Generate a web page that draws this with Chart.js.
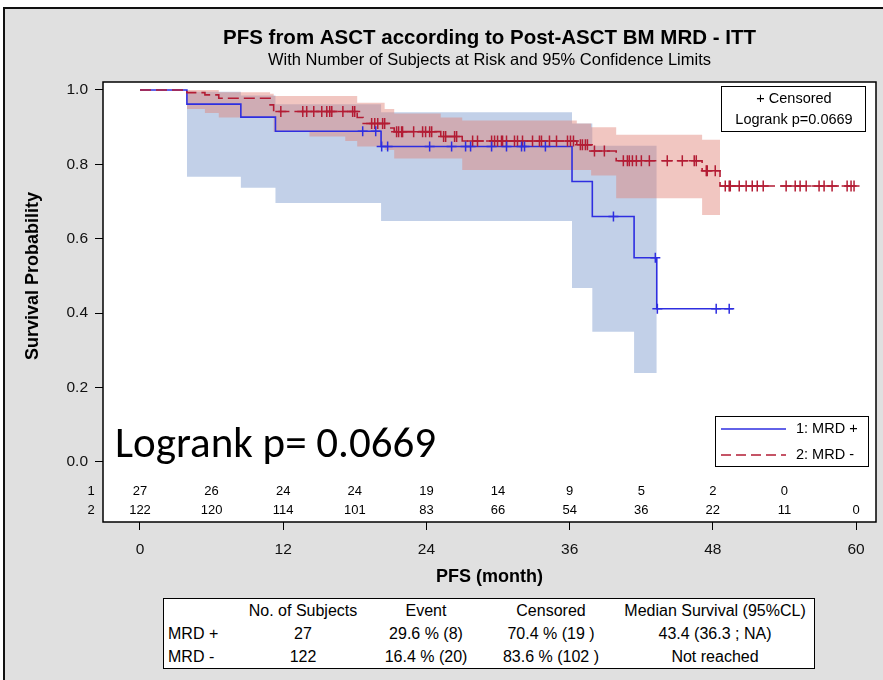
<!DOCTYPE html>
<html lang="en">
<head>
<meta charset="utf-8">
<title>PFS from ASCT according to Post-ASCT BM MRD - ITT</title>
<script src="https://cdn.jsdelivr.net/npm/chart.js@4.4.1/dist/chart.umd.min.js"></script>
<style>
    html, body { margin: 0; padding: 0; background: #fff; }
    #panel {
        position: absolute; left: 3px; top: 7px; width: 880px; height: 673px;
        box-sizing: border-box; background: #e0e0e0;
        border-left: 2px solid #111; border-top: 2px solid #111;
    }
    #km { position: absolute; left: 0; top: 0; }
    #summary {
        position: absolute; left: 163px; top: 598px; width: 652px; height: 71px;
        box-sizing: border-box; background: #fff; border: 1px solid #000;
        font: 16px 'Liberation Sans', Arial, sans-serif; color: #000;
    }
    #summary div { position: absolute; white-space: nowrap; line-height: 20px; transform: translate(-50%, -50%); }
    #summary div.rowhead { transform: translate(0, -50%); }
</style>
</head>
<body>
<div id="panel"></div>
<canvas id="km" width="883" height="680"></canvas>
<div id="summary"></div>
<script>
// axis ticks
const monthTicks = [0, 12, 24, 36, 48, 60];
const survTicks = [0, 0.2, 0.4, 0.6, 0.8, 1.0];
const riskMonths = [0, 6, 12, 18, 24, 30, 36, 42, 48, 54, 60];

// group 1: MRD +  (KM steps, censoring times, 95% CL bands)
const posTimes = [0, 3.93, 8.45, 11.35, 20.2, 36.2, 37.9, 41.4, 43.3, 49.7];
const posSurv = [1, 0.962, 0.927, 0.889, 0.848, 0.754, 0.66, 0.549, 0.412, 0.412];
const posCensor = [18.66, 19.75, 20.25, 20.75, 24.27, 26.11, 27.28, 27.7, 29.46, 30.71,
    31.97, 32.22, 33.97, 39.67, 43.18, 43.35, 48.28, 49.37];
const posBandTimes = [3.93, 8.45, 11.35, 20.2, 36.2, 37.9, 41.4, 43.3];
const posUpper = [0.995, 0.985, 0.962, 0.94, 0.91, 0.85, 0.85, 0.85];
const posLower = [0.767, 0.737, 0.696, 0.648, 0.468, 0.35, 0.239, 0.239];
const posAtRisk = [27, 26, 24, 24, 19, 14, 9, 5, 2, 0];

// group 2: MRD -
const negTimes = [0, 3.93, 5.44, 6.6, 10.9, 11.2, 18.2, 18.7, 20.9, 21.3, 25.2, 27.0,
    36.6, 37.8, 39.9, 47.1, 48.6, 60.2];
const negSurv = [1, 0.993, 0.987, 0.978, 0.96, 0.942, 0.926, 0.91, 0.898, 0.888, 0.875, 0.863,
    0.853, 0.836, 0.81, 0.783, 0.742, 0.742];
const negCensor = [11.8, 13.64, 13.97, 14.56, 15.23, 15.65, 15.9, 16.07, 17.0, 17.82, 17.99,
    19.41, 19.67, 19.92, 20.33, 20.5,
    21.5, 21.67, 21.92, 22.0, 22.93, 23.68, 23.93, 24.27, 24.44,
    25.44, 25.61, 26.36, 26.53,
    27.87, 28.28, 29.46, 29.71, 29.96, 30.29, 30.38, 30.71, 31.38, 31.63, 32.05, 32.89,
    33.47, 33.64, 34.31, 34.9, 35.82, 36.07, 36.32,
    36.9, 37.07, 37.32, 37.49, 38.08, 38.91,
    40.5, 40.84, 41.0, 41.26, 41.59, 42.01, 42.68, 44.18, 45.44, 46.44, 46.61,
    47.45, 47.53, 48.2,
    49.04, 49.37, 49.46, 50.21, 50.79, 51.3, 51.72, 52.22, 54.14, 54.9, 55.31, 55.82,
    56.9, 57.32, 57.99, 59.25, 59.58, 59.83];
const negBandTimes = [3.93, 5.44, 6.6, 10.9, 11.2, 14.2, 17.2, 18.2, 20.5, 21.3, 25.2, 27.0,
    36.6, 37.8, 39.9, 47.1, 48.6];
const negUpper = [1.0, 1.0, 0.994, 0.99, 0.984, 0.984, 0.984, 0.966, 0.949, 0.937, 0.926, 0.918,
    0.91, 0.9, 0.88, 0.866, 0.866];
const negLower = [0.949, 0.938, 0.926, 0.926, 0.888, 0.875, 0.863, 0.848, 0.839, 0.816, 0.816, 0.785,
    0.785, 0.77, 0.709, 0.664, 0.664];
const negAtRisk = [122, 120, 114, 101, 83, 66, 54, 36, 22, 11, 0];

// summary table
const groupNames = ['MRD +', 'MRD -'];
const legendNames = ['1: MRD +', '2: MRD -'];
const summaryHead = ['No. of Subjects', 'Event', 'Censored', 'Median Survival (95%CL)'];
const subjects = ['27', '122'];
const events = ['29.6 % (8)', '16.4 % (20)'];
const censored = ['70.4 % (19 )', '83.6 % (102 )'];
const medians = ['43.4 (36.3 ; NA)', 'Not reached'];
const logrank = '0.0669';

const BLUE = '#2e2ee0';
const RED = '#b31c34';
const BLUE_BAND = 'rgba(120,150,205,0.45)';
const RED_BAND = 'rgba(225,128,118,0.45)';
const FONT = "'Liberation Sans', Arial, sans-serif";

Chart.defaults.font.family = FONT;
Chart.defaults.color = '#000';

const toPoints = (times, values) => times.map((t, i) => ({ x: t, y: values[i] }));

// survival level in force at time t (censor marks sit on the curve)
function survAt(times, surv, t) {
    let s = surv[0];
    times.forEach((ti, i) => { if (ti <= t) s = surv[i]; });
    return s;
}

const censorPoints = (censor, times, surv) => censor.map(t => ({ x: t, y: survAt(times, surv, t) }));

const band = (data, order, fill, color) => ({
    data, order, fill, backgroundColor: color,
    borderWidth: 0, pointRadius: 0, stepped: true
});

const decorations = {
    id: 'decorations',
    beforeDraw(chart) {
        const { ctx, chartArea: a } = chart;
        ctx.save();
        ctx.fillStyle = '#fff';
        ctx.fillRect(a.left, a.top, a.right - a.left, a.bottom - a.top);
        ctx.restore();
    },
    afterDraw(chart) {
        const { ctx, chartArea: a, scales: { x, y } } = chart;
        const y0 = y.getPixelForValue(0);
        ctx.save();

        ctx.strokeStyle = '#000';
        ctx.lineWidth = 1.5;
        ctx.strokeRect(a.left, a.top, a.right - a.left, a.bottom - a.top);

        // y axis title, centred on the 0..1 range
        ctx.save();
        ctx.translate(33, (y0 + y.getPixelForValue(1)) / 2);
        ctx.rotate(-Math.PI / 2);
        ctx.font = `bold 18px ${FONT}`;
        ctx.textAlign = 'center';
        ctx.textBaseline = 'middle';
        ctx.fillText('Survival Probability', 0, 0);
        ctx.restore();

        // numbers at risk
        ctx.font = `13px ${FONT}`;
        ctx.textAlign = 'center';
        ctx.textBaseline = 'middle';
        [posAtRisk, negAtRisk].forEach((row, r) => {
            const ry = a.bottom - (r === 0 ? 31 : 12);
            ctx.fillText(String(r + 1), a.left - 12, ry);
            row.forEach((n, i) => ctx.fillText(String(n), x.getPixelForValue(riskMonths[i]), ry));
        });

        // censored / logrank box
        ctx.fillStyle = '#fff';
        ctx.fillRect(a.right - 154, a.top + 4, 144, 45);
        ctx.lineWidth = 1;
        ctx.strokeRect(a.right - 154.5, a.top + 4.5, 144, 45);
        ctx.fillStyle = '#000';
        ctx.font = `14.5px ${FONT}`;
        ctx.fillText('+ Censored', a.right - 82, a.top + 17);
        ctx.fillText('Logrank p=' + logrank, a.right - 82, a.top + 38);

        // group legend
        const lx = a.right - 161, ly = y0 - 46;
        ctx.fillStyle = '#fff';
        ctx.fillRect(lx, ly, 153, 50);
        ctx.strokeStyle = '#000';
        ctx.strokeRect(lx + 0.5, ly + 0.5, 153, 50);
        ctx.textAlign = 'left';
        ctx.font = `14.5px ${FONT}`;
        [BLUE, RED].forEach((c, i) => {
            const yy = ly + 13 + i * 26;
            ctx.strokeStyle = c;
            ctx.lineWidth = 1.3;
            ctx.setLineDash(i === 0 ? [] : [10, 5]);
            ctx.beginPath();
            ctx.moveTo(lx + 6, yy);
            ctx.lineTo(lx + 71, yy);
            ctx.stroke();
            ctx.fillStyle = '#000';
            ctx.fillText(legendNames[i], lx + 81, yy);
        });
        ctx.setLineDash([]);

        // large logrank annotation
        ctx.font = "43px Carlito, Lato, 'Open Sans', sans-serif";
        ctx.textBaseline = 'alphabetic';
        ctx.fillText('Logrank p= ' + logrank, 115, y0 - 5);
        ctx.restore();
    }
};

new Chart(document.getElementById('km'), {
    type: 'line',
    data: {
        datasets: [
            { data: censorPoints(posCensor, posTimes, posSurv), order: 0, showLine: false,
              pointStyle: 'cross', pointRadius: 5, pointBorderColor: BLUE, pointBorderWidth: 1.5 },
            { data: censorPoints(negCensor, negTimes, negSurv), order: 0, showLine: false,
              pointStyle: 'cross', pointRadius: 5.5, pointBorderColor: RED, pointBorderWidth: 1.5 },
            { label: legendNames[1], data: toPoints(negTimes, negSurv), order: 1, stepped: true,
              borderColor: RED, borderWidth: 1.6, borderDash: [11, 5], pointRadius: 0, fill: false },
            { label: legendNames[0], data: toPoints(posTimes, posSurv), order: 2, stepped: true,
              borderColor: BLUE, borderWidth: 1.6, pointRadius: 0, fill: false },
            band(toPoints(negBandTimes, negUpper), 3, false, RED_BAND),
            band(toPoints(negBandTimes, negLower), 3, 4, RED_BAND),
            band(toPoints(posBandTimes, posUpper), 4, false, BLUE_BAND),
            band(toPoints(posBandTimes, posLower), 4, 6, BLUE_BAND)
        ]
    },
    options: {
        responsive: false,
        animation: false,
        events: [],
        layout: { padding: { left: 0, right: 6, top: 0, bottom: 90 } },
        scales: {
            x: {
                type: 'linear', min: -3.1, max: 61.67,
                afterBuildTicks: s => { s.ticks = monthTicks.map(v => ({ value: v })); },
                afterFit: s => { s.height = 68; },
                ticks: { font: { size: 15.5 }, padding: 10, color: '#111', maxRotation: 0 },
                grid: { drawOnChartArea: false, drawTicks: true, tickLength: 8, color: '#000' },
                border: { display: false },
                title: { display: true, text: 'PFS (month)', font: { size: 18, weight: 'bold' },
                         padding: { top: 0, bottom: 2 } }
            },
            y: {
                type: 'linear', min: -0.1613, max: 1.0215,
                afterBuildTicks: s => { s.ticks = survTicks.map(v => ({ value: v })); },
                afterFit: s => { s.width = 103; },
                ticks: { font: { size: 15.5 }, padding: 7, color: '#111', callback: v => v.toFixed(1) },
                grid: { drawOnChartArea: false, drawTicks: true, tickLength: 8, color: '#000' },
                border: { display: false }
            }
        },
        plugins: {
            legend: { display: false },
            tooltip: { enabled: false },
            title: {
                display: true, fullSize: false,
                text: 'PFS from ASCT according to Post-ASCT BM MRD - ITT',
                font: { size: 20.5, weight: 'bold', lineHeight: 1.2 },
                padding: { top: 26, bottom: 0 }
            },
            subtitle: {
                display: true, fullSize: false,
                text: 'With Number of Subjects at Risk and 95% Confidence Limits',
                font: { size: 16.5, lineHeight: 1.2 },
                padding: { top: 0, bottom: 11.6 }
            }
        }
    },
    plugins: [decorations]
});

// summary table under the plot
const summary = document.getElementById('summary');
const colX = [139, 262, 387, 551];
const rowY = [12, 35, 58];
function cell(text, left, top, cls) {
    const d = document.createElement('div');
    d.textContent = text;
    d.style.left = left + 'px';
    d.style.top = top + 'px';
    if (cls) d.className = cls;
    summary.appendChild(d);
}
summaryHead.forEach((h, i) => cell(h, colX[i], rowY[0]));
groupNames.forEach((g, r) => {
    cell(g, 4, rowY[r + 1], 'rowhead');
    [subjects[r], events[r], censored[r], medians[r]].forEach((v, i) => cell(v, colX[i], rowY[r + 1]));
});
</script>
</body>
</html>
